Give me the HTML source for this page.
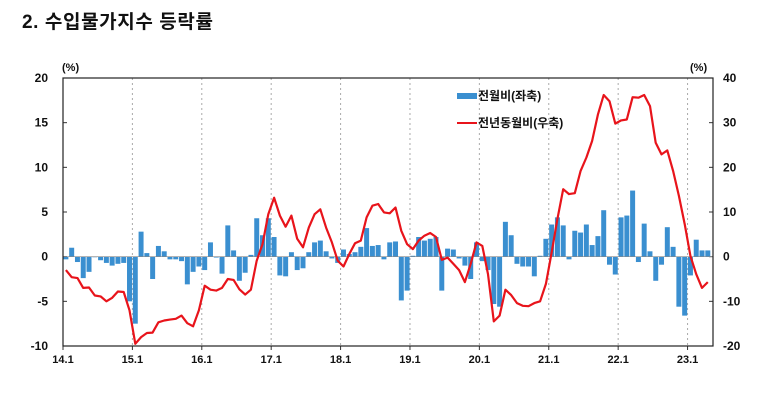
<!DOCTYPE html>
<html><head><meta charset="utf-8">
<style>
body{margin:0;background:#fff;width:780px;height:410px;overflow:hidden;font-family:"Liberation Sans","Noto Sans CJK KR",sans-serif;}
#title{position:absolute;left:22px;top:7px;font-size:19px;font-weight:bold;color:#111;letter-spacing:0.6px;}
svg{position:absolute;left:0;top:0;}
text{font-family:"Liberation Sans","Noto Sans CJK KR",sans-serif;font-weight:bold;fill:#111;}
</style></head>
<body>
<div id="title">2. 수입물가지수 등락률</div>
<svg id="chart" width="780" height="410"></svg>
<script>
const yearLabels=["14.1","15.1","16.1","17.1","18.1","19.1","20.1","21.1","22.1","23.1"];
const leftTicks=[20,15,10,5,0,-5,-10];
const rightTicks=[40,30,20,10,0,-10,-20];
const momValues=[-0.3,1.0,-0.6,-2.4,-1.7,0,-0.4,-0.7,-1.0,-0.8,-0.7,-5.0,
-7.5,2.8,0.4,-2.5,1.2,0.6,-0.3,-0.3,-0.5,-3.1,-1.7,-1.1,
-1.5,1.6,-0.1,-1.9,3.5,0.7,-2.7,-1.8,0.2,4.3,2.4,4.3,
2.2,-2.1,-2.2,0.5,-1.5,-1.3,0.5,1.6,1.8,0.6,-0.2,-0.7,
0.8,0.3,0.5,1.1,3.2,1.2,1.3,-0.3,1.6,1.7,-4.9,-3.8,
0.1,2.2,1.8,2.0,2.2,-3.8,0.9,0.8,-0.2,-1.0,-2.5,1.6,
-0.5,-1.5,-5.3,-5.6,3.9,2.4,-0.8,-1.1,-1.1,-2.2,0.1,2.0,
3.6,4.4,3.5,-0.3,2.9,2.7,3.6,1.3,2.3,5.2,-0.9,-2.0,
4.4,4.6,7.4,-0.6,3.7,0.6,-2.7,-0.9,3.3,1.1,-5.6,-6.6,
-2.1,1.9,0.7,0.7];
const yoyValues=[-3.0,-4.6,-4.8,-7.0,-6.9,-8.7,-8.9,-10.0,-9.2,-7.8,-7.9,-12.0,
-19.5,-18.0,-17.1,-17.0,-14.7,-14.3,-14.1,-13.9,-13.2,-14.9,-15.6,-12.0,
-6.5,-7.4,-7.6,-7.0,-5.0,-5.2,-7.3,-8.5,-7.4,-0.9,2.8,9.5,
13.2,9.2,6.7,9.2,4.0,2.1,6.5,9.5,10.6,6.5,3.2,-0.9,
-2.2,0.6,3.0,3.6,8.8,11.4,11.8,9.9,9.7,11.0,5.8,2.8,
1.7,3.6,4.7,5.3,4.4,-0.7,-0.2,-1.6,-3.0,-5.7,-1.6,3.2,
2.4,-3.9,-14.5,-13.2,-7.4,-8.6,-10.4,-11.0,-11.1,-10.4,-10.0,-6.1,
1.0,8.4,15.1,14.0,14.2,19.2,22.2,25.9,31.8,36.2,34.8,29.8,
30.5,30.7,35.7,35.6,36.2,33.7,25.5,22.9,23.8,19.2,13.6,7.3,
0.2,-3.9,-7.0,-5.7];

const NS="http://www.w3.org/2000/svg";
const svg=document.getElementById('chart');
const L=63,R=713,T=78,B=346,MW=(R-L)/112.4;
function xm(i){return L+MW*i;}
function yl(v){return T+(20-v)*(B-T)/30;}
function yr(v){return T+(40-v)*(B-T)/60;}
function mk(tag,attrs){const e=document.createElementNS(NS,tag);for(const k in attrs)e.setAttribute(k,attrs[k]);svg.appendChild(e);return e;}

yearLabels.forEach((lab,k)=>{
  const x=xm(12*k);
  if(k>0){const g=mk('line',{x1:x,x2:x,y1:T,y2:B,stroke:'#aaa','stroke-dasharray':'2,3','stroke-width':1});
  
  }
  const t=mk('text',{x:x,y:B+17,'font-size':11,'text-anchor':'middle'});t.textContent=lab;
  
  
  const tk=mk('line',{x1:x,x2:x,y1:B,y2:B+4,stroke:'#333'});
  
  
});
leftTicks.forEach(v=>{
  const t=mk('text',{x:48,y:yl(v)+4,'font-size':12,'text-anchor':'end'});t.textContent=v;
  
  
  const tk=mk('line',{x1:L,x2:L+4,y1:yl(v),y2:yl(v),stroke:'#333'});
  
  
});
rightTicks.forEach(v=>{
  const t=mk('text',{x:723,y:yr(v)+4,'font-size':12,'text-anchor':'start'});t.textContent=v;
  
  
  const tk=mk('line',{x1:R-4,x2:R,y1:yr(v),y2:yr(v),stroke:'#333'});
  
  
});
const u1=mk('text',{x:62,y:71,'font-size':11});u1.textContent='(%)';


const u2=mk('text',{x:690,y:71,'font-size':11});u2.textContent='(%)';



momValues.forEach((v,i)=>{
  const y0=yl(0),y1=yl(v);
  const b=mk('rect',{x:xm(i)+0.4,y:Math.min(y0,y1),width:MW-0.8,height:Math.max(0.6,Math.abs(y1-y0)),fill:'#3a8fd0'});
  
  
});
const z=mk('line',{x1:L,x2:R,y1:yl(0),y2:yl(0),stroke:'#888','stroke-width':0.6});


const pts=yoyValues.map((v,i)=>(xm(i)+MW/2).toFixed(1)+','+yr(v).toFixed(1)).join(' ');
const pl=mk('polyline',{points:pts,fill:'none',stroke:'#e8141b','stroke-width':2.2,'stroke-linejoin':'round'});


const fr=mk('rect',{x:L,y:T,width:R-L,height:B-T,fill:'none',stroke:'#222','stroke-width':1.2});


const lr=mk('rect',{x:457,y:93,width:20,height:6,fill:'#3a8fd0'});


const lt=mk('text',{x:478,y:100,'font-size':12});lt.textContent='전월비(좌축)';


const ll=mk('line',{x1:457,x2:477,y1:123,y2:123,stroke:'#e8141b','stroke-width':2});


const lt2=mk('text',{x:478,y:127,'font-size':12});lt2.textContent='전년동월비(우축)';


</script>
</body></html>
